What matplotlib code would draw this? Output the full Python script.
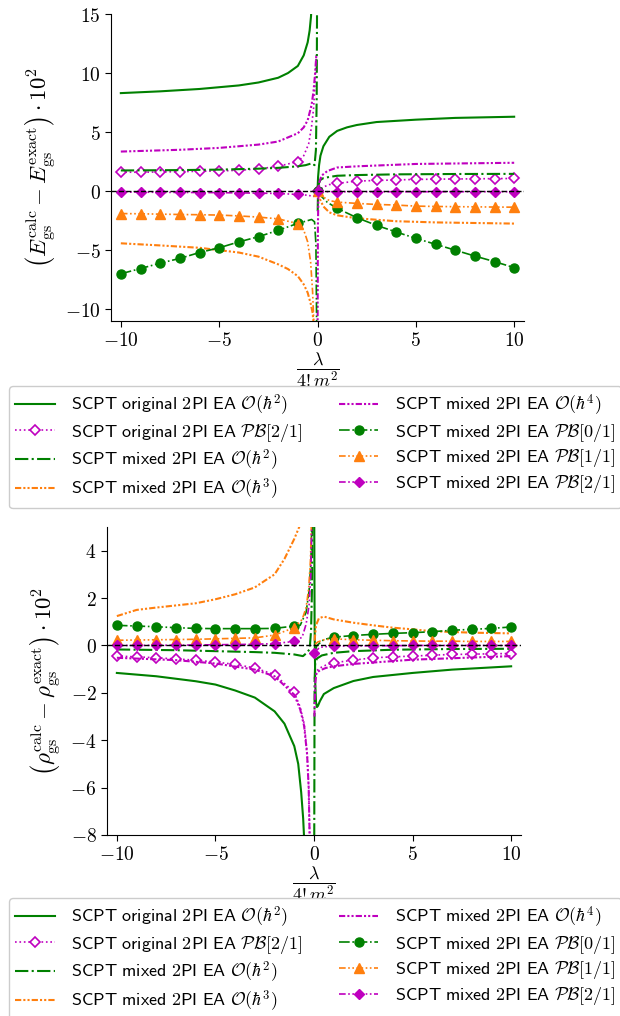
import numpy as np
import matplotlib
matplotlib.use("Agg")
import matplotlib.pyplot as plt
from matplotlib.ticker import FuncFormatter

plt.rcParams['mathtext.fontset'] = 'cm'
plt.rcParams['font.family'] = ['DejaVu Sans']

nan = np.nan
lam_neg = [-10, -9, -8, -7, -6, -5, -4, -3, -2, -1]
lam_pos = [1, 2, 3, 4, 5, 6, 7, 8, 9, 10]

labels = [r"$\mathsf{SCPT\ original\ 2PI\ EA}\ \mathcal{O}(\hbar^2)$",
          r"$\mathsf{SCPT\ original\ 2PI\ EA}\ \mathcal{PB}[2/1]$",
          r"$\mathsf{SCPT\ mixed\ 2PI\ EA}\ \mathcal{O}(\hbar^2)$",
          r"$\mathsf{SCPT\ mixed\ 2PI\ EA}\ \mathcal{O}(\hbar^3)$",
          r"$\mathsf{SCPT\ mixed\ 2PI\ EA}\ \mathcal{O}(\hbar^4)$",
          r"$\mathsf{SCPT\ mixed\ 2PI\ EA}\ \mathcal{PB}[0/1]$",
          r"$\mathsf{SCPT\ mixed\ 2PI\ EA}\ \mathcal{PB}[1/1]$",
          r"$\mathsf{SCPT\ mixed\ 2PI\ EA}\ \mathcal{PB}[2/1]$"]

# ---------------- top panel: energy ----------------
t_o2_x = [-10, -8, -6, -4, -3, -2, -1.5, -1, -0.7, -0.5, -0.4, -0.33, -0.28, nan,
          0.0, 0.03, 0.08, 0.15, 0.3, 0.6, 1, 1.5, 2, 3, 5, 7, 10]
t_o2_y = [8.3, 8.45, 8.65, 8.95, 9.2, 9.6, 10.0, 10.6, 11.5, 12.6, 13.6, 14.8, 16.5, nan,
          0.0, 1.2, 2.2, 3.0, 3.8, 4.6, 5.1, 5.4, 5.6, 5.85, 6.05, 6.2, 6.3]

t_ob21_neg = [1.6, 1.6, 1.62, 1.65, 1.68, 1.7, 1.77, 1.88, 2.1, 2.5]
t_ob21_nx = [-0.7, -0.45, -0.3, -0.2, -0.12, -0.07, nan, 0, 0.3, 0.6]
t_ob21_ny = [3.0, 4.0, 5.5, 7.0, 9.2, 11.5, nan, 0.0, 0.35, 0.55]
t_ob21_pos = [0.65, 0.85, 0.9, 0.95, 0.99, 1.01, 1.03, 1.04, 1.06, 1.07]

t_m2_x = [-10, -7, -5, -3, -2, -1, -0.6, -0.3, -0.15, -0.08, -0.04, -0.02, nan,
          0.01, 0.03, 0.08, 0.15, 0.3, 0.6, 1, 2, 4, 7, 10]
t_m2_y = [1.75, 1.78, 1.82, 1.9, 1.97, 2.1, 2.2, 2.35, 2.2, 3.5, 8, 17, nan,
          -1.7, 0.3, 0.7, 0.95, 1.1, 1.2, 1.3, 1.36, 1.42, 1.45, 1.46]

t_m3_x = [-10, -8, -6, -5, -4, -3, -2, -1.5, -1, -0.7, -0.5, -0.35, -0.25, -0.18, nan,
          0, 0.1, 0.3, 0.6, 1, 2, 4, 6, 10]
t_m3_y = [-4.42, -4.6, -4.8, -5.0, -5.2, -5.55, -6.2, -6.6, -7.2, -7.9, -8.6, -9.5, -10.3, -11.5, nan,
          0, -0.6, -1.3, -1.8, -2.05, -2.3, -2.55, -2.65, -2.75]

t_m4_x = [-10, -7, -5, -3, -2, -1, -0.7, -0.5, -0.3, -0.2, -0.12, -0.06, nan,
          0.005, 0.02, 0.05, 0.1, 0.2, 0.5, 1, 2, 5, 10]
t_m4_y = [3.35, 3.5, 3.66, 3.94, 4.2, 4.9, 5.4, 6.0, 7.3, 8.5, 10.0, 11.5, nan,
          -12, -3, 0, 0.8, 1.3, 1.7, 2.0, 2.1, 2.3, 2.4]

t_pb01_neg = [-7.0, -6.56, -6.1, -5.7, -5.2, -4.8, -4.3, -3.86, -3.32, -2.73]
t_pb01_nx = [-0.6, -0.3, -0.15, -0.08, -0.04, nan, 0, 0.2, 0.5]
t_pb01_ny = [-2.55, -2.4, -2.6, -4.5, -12, nan, 0, -0.45, -0.95]
t_pb01_pos = [-1.46, -2.25, -2.9, -3.46, -4.0, -4.5, -5.0, -5.5, -5.97, -6.48]

t_pb11_neg = [-1.9, -1.92, -1.95, -1.98, -2.0, -2.03, -2.1, -2.2, -2.35, -2.75]
t_pb11_nx = [-0.7, -0.5, -0.35, -0.25, -0.18, nan, 0, 0.3, 0.6]
t_pb11_ny = [-3.3, -4.3, -6.0, -8.5, -11.5, nan, 0, -0.5, -0.8]
t_pb11_pos = [-0.93, -1.04, -1.13, -1.18, -1.27, -1.3, -1.32, -1.33, -1.35, -1.36]

t_pb21_neg = [-0.08, -0.09, -0.1, -0.11, -0.12, -0.13, -0.15, -0.17, -0.2, -0.28]
t_pb21_nx = [-0.5, -0.2, nan, 0, 0.3, 0.6]
t_pb21_ny = [-0.35, -0.45, nan, 0, -0.05, -0.05]
t_pb21_pos = [-0.05, -0.05, -0.05, -0.05, -0.05, -0.05, -0.05, -0.05, -0.05, -0.05]

# ---------------- bottom panel: density ----------------
b_o2_x = [-10, -8, -6, -5, -4, -3, -2, -1.5, -1, -0.8, -0.65, -0.55, -0.48, nan,
          0.01, 0.03, 0.06, 0.1, 0.15, 0.2, 0.3, 0.5, 1, 2, 3, 5, 7, 10]
b_o2_y = [-1.16, -1.3, -1.51, -1.65, -1.9, -2.2, -2.78, -3.3, -4.25, -5.0, -6.2, -7.3, -8.5, nan,
          6, 1, -1.5, -2.4, -2.6, -2.55, -2.35, -2.05, -1.8, -1.5, -1.33, -1.16, -1.02, -0.88]

b_ob21_neg = [-0.45, -0.48, -0.52, -0.57, -0.62, -0.7, -0.8, -0.95, -1.23, -1.98]
b_ob21_nx = [-0.7, -0.5, -0.35, -0.27, -0.21, nan, 0.02, 0.1, 0.3, 0.6]
b_ob21_ny = [-2.6, -3.3, -4.5, -6.0, -8.5, nan, -1.4, -1.1, -0.95, -0.83]
b_ob21_pos = [-0.73, -0.62, -0.52, -0.48, -0.45, -0.41, -0.38, -0.37, -0.35, -0.34]

b_m2_x = [-10, -7, -5, -3, -2, -1, -0.56, -0.35, -0.22, -0.15, -0.1, -0.07, nan,
          0.01, 0.03, 0.06, 0.15, 0.4, 1, 2, 4, 7, 10]
b_m2_y = [-0.17, -0.2, -0.24, -0.28, -0.31, -0.38, -0.45, -0.3, -0.15, 0.6, 2.5, 6, nan,
          -9, -1.5, -0.75, -0.55, -0.42, -0.31, -0.24, -0.18, -0.15, -0.14]

b_m3_x = [-10, -9, -8, -6, -5, -4, -3, -2.5, -2, -1.5, -1, -0.7, -0.6, nan,
          0.03, 0.1, 0.25, 0.5, 1, 2, 3, 4, 5, 6, 7, 8, 10]
b_m3_y = [1.24, 1.5, 1.6, 1.78, 1.95, 2.16, 2.45, 2.73, 3.0, 3.65, 4.5, 5.1, 5.6, nan,
          0.2, 0.85, 1.15, 1.22, 1.1, 0.96, 0.85, 0.75, 0.68, 0.6, 0.57, 0.54, 0.51]

b_m4_x = [-10, -7, -5, -3, -2, -1, -0.7, -0.5, -0.35, -0.27, -0.21, nan,
          0.02, 0.06, 0.13, 0.3, 0.6, 1, 2, 5, 10]
b_m4_y = [-0.52, -0.62, -0.76, -1.02, -1.3, -2.08, -2.7, -3.4, -4.6, -6.0, -8.5, nan,
          -3, -1.6, -1.15, -1.05, -0.95, -0.88, -0.78, -0.6, -0.45]

b_pb01_neg = [0.85, 0.82, 0.79, 0.75, 0.72, 0.71, 0.71, 0.71, 0.72, 0.82]
b_pb01_nx = [-0.7, -0.4, -0.25, -0.16, -0.1, nan, 0.05, 0.15, 0.5]
b_pb01_ny = [0.85, 1.4, 2.3, 3.5, 5.5, nan, -0.25, 0.0, 0.25]
b_pb01_pos = [0.35, 0.42, 0.47, 0.51, 0.54, 0.58, 0.64, 0.68, 0.72, 0.78]

b_pb11_neg = [0.22, 0.23, 0.24, 0.25, 0.26, 0.28, 0.3, 0.32, 0.44, 0.75]
b_pb11_nx = [-0.6, -0.4, -0.27, -0.18, -0.12, nan, 0.05, 0.2, 0.5]
b_pb11_ny = [1.1, 1.6, 2.4, 3.6, 5.5, nan, 0.05, 0.15, 0.24]
b_pb11_pos = [0.28, 0.24, 0.22, 0.2, 0.19, 0.18, 0.18, 0.17, 0.17, 0.17]

b_pb21_neg = [0.0, 0.0, 0.01, 0.01, 0.02, 0.03, 0.04, 0.05, 0.08, 0.17]
b_pb21_nx = [-0.6, -0.4, -0.25, -0.16, -0.11, nan, 0, 0.3, 0.6]
b_pb21_ny = [0.35, 0.9, 1.7, 3.0, 5.3, nan, -0.3, -0.08, -0.05]
b_pb21_pos = [-0.03, -0.02, -0.01, -0.01, 0, 0, 0, 0, 0, 0]

GREEN = 'g'
MAG = 'm'
ORANGE = '#ff7f0e'
DDD = (0, (3, 1, 1, 1, 1, 1))
DDD2 = (0, (4, 1.5, 1, 1.5, 1, 1.5))


def with_marks(neg, nx, ny, pos):
    x = np.array(lam_neg + nx + lam_pos, dtype=float)
    y = np.array(neg + ny + pos, dtype=float)
    mask = list(np.isfinite(x) & (np.abs(x - np.round(x)) < 1e-9))
    return x, y, mask


def panel(ax, o2, ob21, m2, m3, m4, pb01, pb11, pb21):
    ax.plot(*o2, color=GREEN, ls='-', lw=1.5, label=labels[0])
    x, y, mk = with_marks(*ob21)
    ax.plot(x, y, color=MAG, ls=':', lw=1.2, marker='D', ms=5, mfc='white',
            mew=1.2, markevery=mk, label=labels[1])
    ax.plot(*m2, color=GREEN, ls='-.', lw=1.5, label=labels[2])
    ax.plot(*m3, color=ORANGE, ls=DDD, lw=1.5, label=labels[3])
    ax.plot(*m4, color=MAG, ls=DDD, lw=1.5, label=labels[4])
    x, y, mk = with_marks(*pb01)
    ax.plot(x, y, color=GREEN, ls='-.', lw=1.2, marker='o', ms=6.5,
            markevery=mk, label=labels[5])
    x, y, mk = with_marks(*pb11)
    ax.plot(x, y, color=ORANGE, ls=DDD2, lw=1.2, marker='^', ms=6.5,
            markevery=mk, label=labels[6])
    x, y, mk = with_marks(*pb21)
    ax.plot(x, y, color=MAG, ls=DDD2, lw=1.2, marker='D', ms=5.5,
            markevery=mk, label=labels[7])
    ax.axhline(0, color='k', ls='--', lw=1.0, zorder=5)
    ax.set_xlim(-10.5, 10.5)
    ax.set_xticks([-10, -5, 0, 5, 10])
    ax.spines['top'].set_visible(False)
    ax.spines['right'].set_visible(False)
    fmt = FuncFormatter(lambda v, p: f"${v:g}$")
    ax.xaxis.set_major_formatter(fmt)
    ax.yaxis.set_major_formatter(fmt)
    ax.tick_params(labelsize=14, length=4)
    ax.set_xlabel(r"$\dfrac{\lambda}{4!m^2}$", fontsize=13, labelpad=0)


fig = plt.figure(figsize=(6.2, 10.16), dpi=100)
ax1 = fig.add_axes([111 / 620, 1 - 321 / 1016, 413 / 620, 307 / 1016])
ax2 = fig.add_axes([107 / 620, 1 - 835 / 1016, 414 / 620, 308 / 1016])

panel(ax1, (t_o2_x, t_o2_y), (t_ob21_neg, t_ob21_nx, t_ob21_ny, t_ob21_pos),
      (t_m2_x, t_m2_y), (t_m3_x, t_m3_y), (t_m4_x, t_m4_y),
      (t_pb01_neg, t_pb01_nx, t_pb01_ny, t_pb01_pos),
      (t_pb11_neg, t_pb11_nx, t_pb11_ny, t_pb11_pos),
      (t_pb21_neg, t_pb21_nx, t_pb21_ny, t_pb21_pos))
ax1.set_ylim(-11, 15)
ax1.set_yticks([-10, -5, 0, 5, 10, 15])
ax1.set_ylabel(r"$\left(E_{\rm gs}^{\rm calc}-E_{\rm gs}^{\rm exact}\right)\cdot 10^2$",
               fontsize=16.5, labelpad=5)

panel(ax2, (b_o2_x, b_o2_y), (b_ob21_neg, b_ob21_nx, b_ob21_ny, b_ob21_pos),
      (b_m2_x, b_m2_y), (b_m3_x, b_m3_y), (b_m4_x, b_m4_y),
      (b_pb01_neg, b_pb01_nx, b_pb01_ny, b_pb01_pos),
      (b_pb11_neg, b_pb11_nx, b_pb11_ny, b_pb11_pos),
      (b_pb21_neg, b_pb21_nx, b_pb21_ny, b_pb21_pos))
ax2.set_ylim(-8, 5)
ax2.set_yticks([-8, -6, -4, -2, 0, 2, 4])
ax2.set_ylabel(r"$\left(\rho_{\rm gs}^{\rm calc}-\rho_{\rm gs}^{\rm exact}\right)\cdot 10^2$",
               fontsize=16.5, labelpad=5)

for ax, ytop in [(ax1, 386), (ax2, 898)]:
    ax.legend(loc='upper left', bbox_to_anchor=(9 / 620, 1 - ytop / 1016),
              bbox_transform=fig.transFigure, borderaxespad=0, ncol=2, fontsize=13,
              handlelength=2.2, handletextpad=0.9, columnspacing=2.0,
              labelspacing=0.22, borderpad=0.35,
              edgecolor='0.8', framealpha=1.0)

fig.savefig("out.png", dpi=100)
